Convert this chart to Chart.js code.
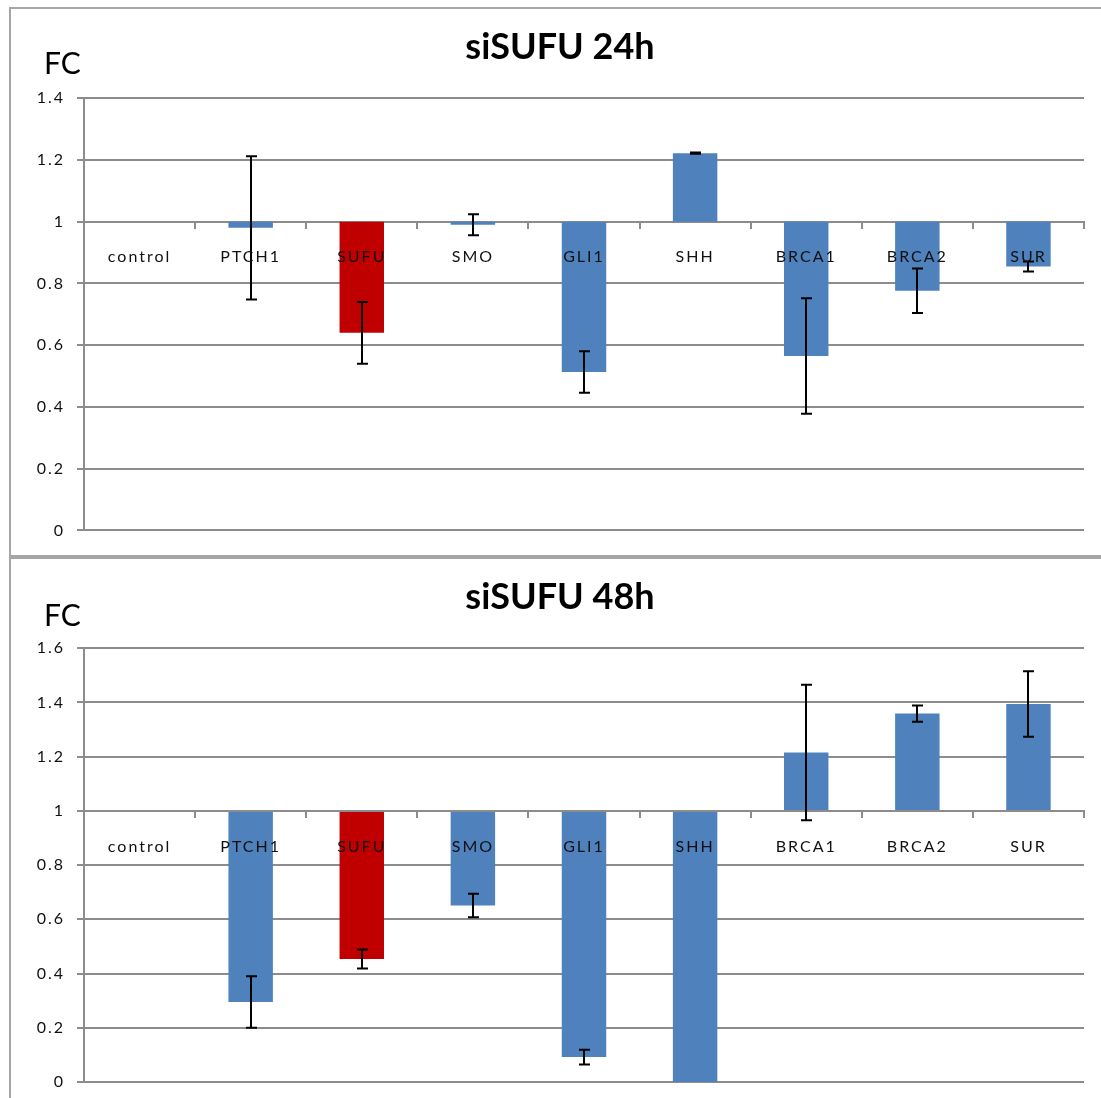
<!DOCTYPE html>
<html>
<head>
<meta charset="utf-8">
<script src="https://cdn.jsdelivr.net/npm/chart.js@4.4.0/dist/chart.umd.min.js"></script>
<style>
  html, body { margin: 0; padding: 0; background: #fff; overflow: hidden; width: 1101px; height: 1098px; }
  .box { position: absolute; left: 9px; width: 1100px; border: 2px solid #a6a6a6; box-sizing: border-box; background: #fff; }
  #box24 { top: 7px; height: 550px; }
  #box48 { top: 557px; height: 560px; }
  .box canvas { display: block; }
</style>
</head>
<body>
<div class="box" id="box24"><canvas id="chart24" width="1096" height="543"></canvas></div>
<div class="box" id="box48"><canvas id="chart48" width="1096" height="545"></canvas></div>
<script>
const genes = ['control', 'PTCH1', 'SUFU', 'SMO', 'GLI1', 'SHH', 'BRCA1', 'BRCA2', 'SUR'];

const fc24  = [1, 0.98, 0.64, 0.99, 0.513, 1.222, 0.565, 0.776, 0.855];
const err24 = [0, 0.232, 0.100, 0.034, 0.067, 0.002, 0.187, 0.072, 0.016];

const fc48  = [1, 0.295, 0.454, 0.651, 0.092, 0, 1.215, 1.359, 1.394];
const err48 = [0, 0.095, 0.035, 0.043, 0.027, 0, 0.25, 0.03, 0.121];

const max24 = 1.4;
const max48 = 1.6;

const BLUE = '#4f81bd';
const RED  = '#c00000';
const GRID = '#8c8c8c';
const TEXT = '#111';

// ─── Plugins ───────────────────────────────────────────

// the old Excel rendering has loose, wide lettering on the axis labels;
// title is drawn tight, tick labels (z: 1) come after the bars with spacing
const spacing = {
  id: 'spacing',
  beforeUpdate(chart)      { chart.ctx.letterSpacing = '2px'; },
  beforeDraw(chart)        { chart.ctx.letterSpacing = '0px'; },
  afterDatasetsDraw(chart) { chart.ctx.letterSpacing = '2px'; },
};

const errorBars = {
  id: 'errorBars',
  afterDatasetsDraw(chart, args, opts) {
    const { ctx, scales: { x, y } } = chart;
    const values = chart.data.datasets[0].data;
    ctx.save();
    ctx.strokeStyle = '#000';
    ctx.lineWidth = 2;
    values.forEach((v, i) => {
      const e = opts.errors[i];
      if (!e) return;
      const cx  = Math.round(x.getPixelForValue(i));
      const top = y.getPixelForValue(v + e);
      const bot = y.getPixelForValue(v - e);
      ctx.beginPath();
      ctx.moveTo(cx, top); ctx.lineTo(cx, bot);
      ctx.moveTo(cx - 5, top); ctx.lineTo(cx + 6, top);
      ctx.moveTo(cx - 5, bot); ctx.lineTo(cx + 6, bot);
      ctx.stroke();
    });
    ctx.restore();
  },
};

const fcLabel = {
  id: 'fcLabel',
  afterDraw(chart, args, opts) {
    const { ctx } = chart;
    ctx.save();
    ctx.letterSpacing = '0px';
    ctx.font = '30px Lato';
    ctx.fillStyle = '#000';
    ctx.textBaseline = 'middle';
    ctx.fillText('FC', 33, opts.y);
    ctx.restore();
  },
};

// ─── Charts ────────────────────────────────────────────

function makeChart(id, title, values, errors, yMax, fcY, padBottom) {
  return new Chart(document.getElementById(id), {
    type: 'bar',
    data: {
      labels: genes,
      datasets: [{
        data: values,
        base: 1,
        backgroundColor: genes.map(g => g === 'SUFU' ? RED : BLUE),
        borderWidth: 0,
        categoryPercentage: 0.4,
        barPercentage: 1,
      }],
    },
    options: {
      responsive: false,
      animation: false,
      layout: { padding: { left: 25, right: 23, top: 0, bottom: padBottom } },
      plugins: {
        legend: { display: false },
        tooltip: { enabled: false },
        title: {
          display: true,
          text: title,
          color: '#000',
          font: { family: 'Lato', size: 36, weight: 'bold', lineHeight: 1.2 },
          padding: { top: 17, bottom: 29 },
        },
        errorBars: { errors },
        fcLabel: { y: fcY },
      },
      scales: {
        x: {
          position: { y: 1 },
          grid: { display: true, drawOnChartArea: false, drawTicks: true, tickLength: 6, color: GRID, lineWidth: 2, offset: true },
          border: { color: GRID, width: 2 },
          ticks: { z: 1, color: TEXT, padding: 20, font: { family: 'Lato', size: 16 }, maxRotation: 0 },
        },
        y: {
          min: 0,
          max: yMax,
          afterFit: s => { s.width = 48; },
          grid: { color: GRID, lineWidth: 2, tickLength: 7 },
          border: { color: GRID, width: 2 },
          ticks: { z: 1, stepSize: 0.2, color: TEXT, padding: 12, font: { family: 'Lato', size: 16 }, callback: v => String(+v.toFixed(1)) },
        },
      },
    },
    plugins: [spacing, errorBars, fcLabel],
  });
}

makeChart('chart24', 'siSUFU 24h', fc24, err24, max24, 55, 21);
makeChart('chart48', 'siSUFU 48h', fc48, err48, max48, 57, 22);
</script>
</body>
</html>
